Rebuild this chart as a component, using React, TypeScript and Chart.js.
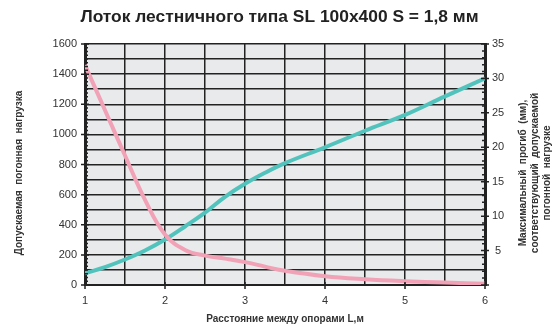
import React, { useEffect, useRef } from 'react';
import { Chart, registerables } from 'chart.js';

Chart.register(...registerables);

const TITLE = 'Лоток лестничного типа SL 100x400 S = 1,8 мм';
const X_TITLE = 'Расстояние между опорами L,м';
const Y_TITLE = 'Допускаемая  погонная  нагрузка';
const Y1_TITLE = ['Максимальный  прогиб  (мм),', 'соответствующий  допускаемой', 'погонной  нагрузке'];

// span between supports L, m
const spans = [1, 1.25, 1.5, 1.75, 2, 2.25, 2.5, 2.75, 3, 3.25, 3.5, 4, 4.5, 5, 5.5, 6];
// permissible linear load (left axis)
const loadValues = [1460, 1160, 860, 565, 335, 232, 195, 175, 152, 122, 94, 58, 38, 25, 16, 9];
// max deflection, mm (right axis)
const deflectionValues = [1.7, 2.6, 3.7, 5.0, 6.6, 8.5, 10.5, 12.8, 14.7, 16.3, 17.7, 20.0, 22.4, 24.7, 27.4, 30.0];

const X_MIN = 1;
const X_MAX = 6;
const Y_MAX = 1600;
const Y1_MAX = 35;

const FONT = "'Liberation Sans', Arial, sans-serif";
const PINK = '#F2A2B6';
const TEAL = '#52C3BC';
const DARK = '#222222';

const decorPlugin = {
  id: 'decor',
  beforeDraw(chart: any) {
    const { ctx, chartArea: a } = chart;
    ctx.save();
    ctx.fillStyle = '#E9EAEC';
    ctx.fillRect(a.left, a.top, a.right - a.left, a.bottom - a.top);
    ctx.restore();
  },
  afterDraw(chart: any) {
    const { ctx, chartArea: a } = chart;
    const y = chart.scales.y;
    const y1 = chart.scales.y1;
    const x = chart.scales.x;
    ctx.save();
    ctx.strokeStyle = DARK;
    ctx.lineWidth = 1.5;
    ctx.beginPath();
    for (let v = 0; v <= Y_MAX; v += 25) {
      const p = y.getPixelForValue(v);
      const major = v % 200 === 0;
      ctx.moveTo(a.left - (major ? 4 : 0), p);
      ctx.lineTo(a.left + (major ? 4 : 3), p);
    }
    for (let v = 0; v <= Y1_MAX; v += 1) {
      const p = y1.getPixelForValue(v);
      const major = v % 5 === 0;
      ctx.moveTo(a.right - (major ? 4 : 3), p);
      ctx.lineTo(a.right + (major ? 4 : 0), p);
    }
    for (let v = X_MIN; v <= X_MAX; v += 1) {
      const p = x.getPixelForValue(v);
      ctx.moveTo(p, a.bottom - 3);
      ctx.lineTo(p, a.bottom + 4);
    }
    ctx.stroke();

    // vertical axis titles, read bottom-to-top
    ctx.fillStyle = '#333';
    ctx.font = `bold 10px ${FONT}`;
    ctx.textAlign = 'center';
    ctx.textBaseline = 'middle';
    const cy = (a.top + a.bottom) / 2 + 8.5;
    const drawV = (t: string, cx: number) => {
      ctx.save();
      ctx.translate(cx, cy);
      ctx.rotate(-Math.PI / 2);
      ctx.fillText(t, 0, 0);
      ctx.restore();
    };
    drawV(Y_TITLE, 19);
    const xs = [523.5, 535.5, 547.5];
    Y1_TITLE.forEach((t, i) => drawV(t, xs[i]));
    ctx.restore();
  },
};

export default function App() {
  const ref = useRef<HTMLCanvasElement | null>(null);

  useEffect(() => {
    if (!ref.current) return;
    const chart = new Chart(ref.current, {
      type: 'line',
      data: {
        datasets: [
          {
            label: 'load',
            data: spans.map((s, i) => ({ x: s, y: loadValues[i] })),
            borderColor: PINK,
            borderWidth: 4,
            pointRadius: 0,
            tension: 0.4,
            yAxisID: 'y',
          },
          {
            label: 'deflection',
            data: spans.map((s, i) => ({ x: s, y: deflectionValues[i] })),
            borderColor: TEAL,
            borderWidth: 4,
            pointRadius: 0,
            tension: 0.4,
            yAxisID: 'y1',
          },
        ],
      },
      options: {
        animation: false,
        responsive: true,
        maintainAspectRatio: false,
        layout: { padding: 0 },
        plugins: {
          legend: { display: false },
          tooltip: { enabled: false },
          title: {
            display: true,
            text: TITLE,
            color: '#222',
            font: { family: FONT, size: 17.4, weight: 'bold', lineHeight: 1 },
            padding: { top: 8.3, bottom: 18.3 },
          },
        },
        scales: {
          x: {
            type: 'linear',
            min: X_MIN,
            max: X_MAX,
            afterFit: (s: any) => { s.height = 45; },
            ticks: {
              stepSize: 0.5,
              autoSkip: false,
              maxRotation: 0,
              padding: 9,
              color: '#333',
              font: { family: FONT, size: 11 },
              callback: (v: any) => (Number.isInteger(v) ? String(v) : ''),
            },
            grid: { color: DARK, lineWidth: 1.5, drawTicks: false },
            border: { color: DARK, width: 2 },
            title: {
              display: true,
              text: X_TITLE,
              color: '#333',
              font: { family: FONT, size: 10, weight: 'bold' },
              padding: { top: 0, bottom: 5 },
            },
          },
          y: {
            type: 'linear',
            position: 'left',
            min: 0,
            max: Y_MAX,
            afterFit: (s: any) => { s.width = 85; },
            ticks: {
              stepSize: 100,
              autoSkip: false,
              padding: 8,
              color: '#333',
              font: { family: FONT, size: 11 },
              callback: (v: any) => (v % 200 === 0 ? String(v) : ''),
            },
            grid: { color: DARK, lineWidth: 1.5, drawTicks: false },
            border: { color: DARK, width: 3 },
          },
          y1: {
            type: 'linear',
            position: 'right',
            min: 0,
            max: Y1_MAX,
            afterFit: (s: any) => { s.width = 74; },
            ticks: {
              stepSize: 5,
              autoSkip: false,
              padding: 7,
              crossAlign: 'center',
              color: '#333',
              font: { family: FONT, size: 11 },
              callback: (v: any) => (v === 0 ? '' : String(v)),
            },
            grid: { drawOnChartArea: false, drawTicks: false },
            border: { color: DARK, width: 3 },
          },
        },
      } as any,
      plugins: [decorPlugin],
    });
    return () => chart.destroy();
  }, []);

  return (
    <>
      <style>{'body{margin:0}'}</style>
      <div style={{ position: 'relative', width: 559, height: 330 }}>
        <canvas ref={ref} />
      </div>
    </>
  );
}
